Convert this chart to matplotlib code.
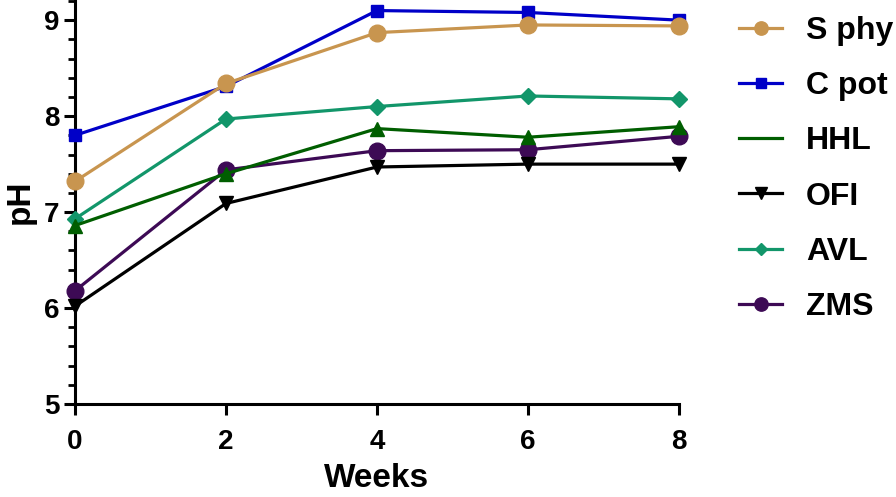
import matplotlib
matplotlib.use("Agg")
import matplotlib.pyplot as plt
from matplotlib.lines import Line2D
from matplotlib.ticker import MultipleLocator

plt.rcParams["font.family"] = ["Liberation Sans", "DejaVu Sans"]
plt.rcParams["font.weight"] = "bold"

weeks = [0, 2, 4, 6, 8]
s_phy = [7.32, 8.34, 8.87, 8.95, 8.94]
c_pot = [7.80, 8.31, 9.10, 9.08, 9.00]
hhl = [6.86, 7.40, 7.87, 7.78, 7.89]
ofi = [6.02, 7.09, 7.47, 7.50, 7.50]
avl = [6.93, 7.97, 8.10, 8.21, 8.18]
zms = [6.18, 7.44, 7.64, 7.65, 7.79]

series = [
    ("S phy", s_phy, "#C8954F", "o", 12),
    ("C pot", c_pot, "#0000C8", "s", 8.5),
    ("HHL", hhl, "#005E00", "^", 10),
    ("OFI", ofi, "#000000", "v", 10),
    ("AVL", avl, "#12966A", "D", 8),
    ("ZMS", zms, "#3D0A55", "o", 12),
]

fig = plt.figure(figsize=(8.96, 4.97), dpi=100)
ax = fig.add_axes([0.0837, 0.187, 0.6741, 0.813])

handles = []
# draw in reverse so earlier series sit on top, like the original
for name, ys, col, mk, ms in reversed(series):
    ax.plot(weeks, ys, color=col, lw=2.3, marker=mk, markersize=ms,
            clip_on=False, zorder=3)
for name, ys, col, mk, ms in series:
    if name == "HHL":
        handles.append(Line2D([], [], color=col, lw=2.3))
    else:
        handles.append(Line2D([], [], color=col, lw=2.3, marker=mk,
                              markersize=ms * 0.8))

ax.set_xlim(0, 8)
ax.set_ylim(5, 9.21)
ax.set_xticks(weeks)
ax.set_yticks([5, 6, 7, 8, 9])
ax.yaxis.set_minor_locator(MultipleLocator(0.2))
ax.spines["top"].set_visible(False)
ax.spines["right"].set_visible(False)
for sp in ("left", "bottom"):
    ax.spines[sp].set_linewidth(2.2)
ax.tick_params(which="major", length=8, width=2.2, labelsize=20)
ax.tick_params(axis="x", pad=10)
ax.tick_params(axis="y", pad=3)
ax.tick_params(which="minor", length=5, width=2.0)

ax.set_xlabel("Weeks", fontsize=24, fontweight="bold", labelpad=6)
ax.set_ylabel("pH", fontsize=24, fontweight="bold", labelpad=6)

fig.legend(handles, [s[0] for s in series], loc="upper left",
           bbox_to_anchor=(739 / 896, 0.968), frameon=False, fontsize=23,
           handlelength=1.35, handletextpad=0.75, labelspacing=0.79,
           borderaxespad=0, borderpad=0)

fig.savefig("out.png", dpi=100)
